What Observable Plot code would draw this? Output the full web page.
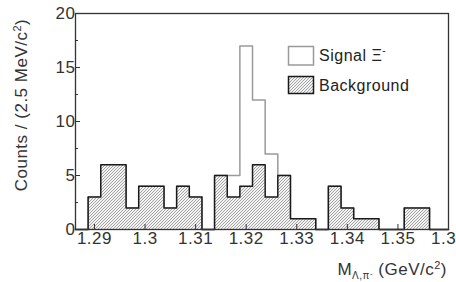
<!DOCTYPE html>
<html><head><meta charset="utf-8">
<script src="https://cdn.jsdelivr.net/npm/d3@7"></script>
<script src="https://cdn.jsdelivr.net/npm/@observablehq/plot@0.6"></script>
<style>
body{margin:0;background:#fff;}
#chart{width:456px;height:282px;overflow:hidden;position:relative;}
</style>
</head><body><div id="chart"></div>
<script>
// Histogram of M(Λπ-) in 2.5 MeV/c² bins
const binWidth = 0.0025;
const firstEdge = 1.28625;
const xDomain = [1.28625, 1.36];
const background = [0,3,6,6,2,4,4,2,4,3,0,5,3,4,6,3,5,1,1,0,4,2,1,1,0,0,2,2,0,0];
const signal     = [0,0,0,0,0,0,0,0,0,0,0,0,2,13,6,4,0,0,0,0,0,0,0,0,0,0,0,0,0,0];
const xTicks = [1.29,1.30,1.31,1.32,1.33,1.34,1.35,1.36];
const yTicks = [0,5,10,15,20];
const yMinorTicks = [2.5,7.5,12.5,17.5];
const legendLabels = ["Signal Ξ", "Background"];

const steps = background.map((b, i) => ({x: firstEdge + i * binWidth, bg: b, tot: b + signal[i]}));
steps.push({x: xDomain[1], bg: background[background.length-1], tot: background[background.length-1] + signal[signal.length-1]});

const font = "Liberation Sans, Arial, Helvetica, sans-serif";

const plot = Plot.plot({
  width: 456, height: 282,
  marginLeft: 75, marginRight: 8, marginTop: 13, marginBottom: 53,
  style: {fontFamily: font, fontSize: "17px", background: "#fff", color: "#222"},
  x: {domain: xDomain},
  y: {domain: [0, 20]},
  marks: [
    Plot.line(steps, {x: "x", y: "tot", curve: "step-after", stroke: "#9a9a9a", strokeWidth: 1.5}),
    Plot.areaY(steps, {x: "x", y: "bg", curve: "step-after", fill: "url(#hatch)"}),
    Plot.line(steps, {x: "x", y: "bg", curve: "step-after", stroke: "#1a1a1a", strokeWidth: 1.5}),
    Plot.axisY({ticks: yMinorTicks, tickSize: -3, text: null, stroke: "#333"}),
    Plot.axisY({ticks: yTicks, tickSize: -5, tickPadding: 5, label: null, stroke: "#333", fill: "#333", fontSize: 17, tickFormat: d => String(d)}),
    Plot.axisX({ticks: xTicks, tickSize: -5, tickPadding: 7, label: null, stroke: "#333", fill: "#333", fontSize: 17, tickFormat: d => String(+d.toFixed(2))}),
    Plot.frame({stroke: "#333", strokeWidth: 1.3})
  ]
});

const svg = d3.select(plot);
svg.style("letter-spacing", "0.5px");
const defs = svg.insert("defs", ":first-child");
const pat = defs.append("pattern").attr("id", "hatch").attr("patternUnits", "userSpaceOnUse")
  .attr("width", 3).attr("height", 3);
pat.append("rect").attr("width", 3).attr("height", 3).attr("fill", "#f4f4f4");
pat.append("path").attr("d", "M0,3L3,0M-1,1L1,-1M2,4L4,2").attr("stroke", "#8c8c8c").attr("stroke-width", 0.8);

// y axis label
const yl = svg.append("text").attr("transform", "translate(27,105) rotate(-90)")
  .attr("text-anchor", "middle").attr("font-family", font).attr("font-size", 17).attr("fill", "#333");
yl.append("tspan").text("Counts / (2.5 MeV/c");
yl.append("tspan").attr("dy", -6).attr("font-size", 11).text("2");
yl.append("tspan").attr("dy", 6).text(")");

// x axis label
const xl = svg.append("text").attr("x", 447).attr("y", 275).attr("text-anchor", "end")
  .attr("font-family", font).attr("font-size", 17).attr("fill", "#333");
xl.append("tspan").text("M");
xl.append("tspan").attr("dy", 4).attr("font-size", 10).text("Λ,π");
xl.append("tspan").attr("dy", -3).attr("font-size", 8).text("-");
xl.append("tspan").attr("dy", -1).text(" (GeV/c");
xl.append("tspan").attr("dy", -6).attr("font-size", 11).text("2");
xl.append("tspan").attr("dy", 6).text(")");

// legend
const lg = svg.append("g").attr("font-family", font).attr("font-size", 16).attr("fill", "#222")
  .attr("text-anchor", "start");
lg.append("rect").attr("x", 288.5).attr("y", 46.5).attr("width", 25).attr("height", 18.5)
  .attr("fill", "#fff").attr("stroke", "#9a9a9a").attr("stroke-width", 1.5);
lg.append("rect").attr("x", 288.5).attr("y", 76.5).attr("width", 25).attr("height", 17)
  .attr("fill", "url(#hatch)").attr("stroke", "#1a1a1a").attr("stroke-width", 1.5);
const t1 = lg.append("text").attr("x", 319).attr("y", 61).attr("text-anchor", "start");
t1.append("tspan").text(legendLabels[0]);
t1.append("tspan").attr("dy", -7).attr("font-size", 10).text("-");
lg.append("text").attr("x", 319).attr("y", 91).attr("text-anchor", "start").text(legendLabels[1]);

document.getElementById("chart").appendChild(plot);
</script>
</body></html>
